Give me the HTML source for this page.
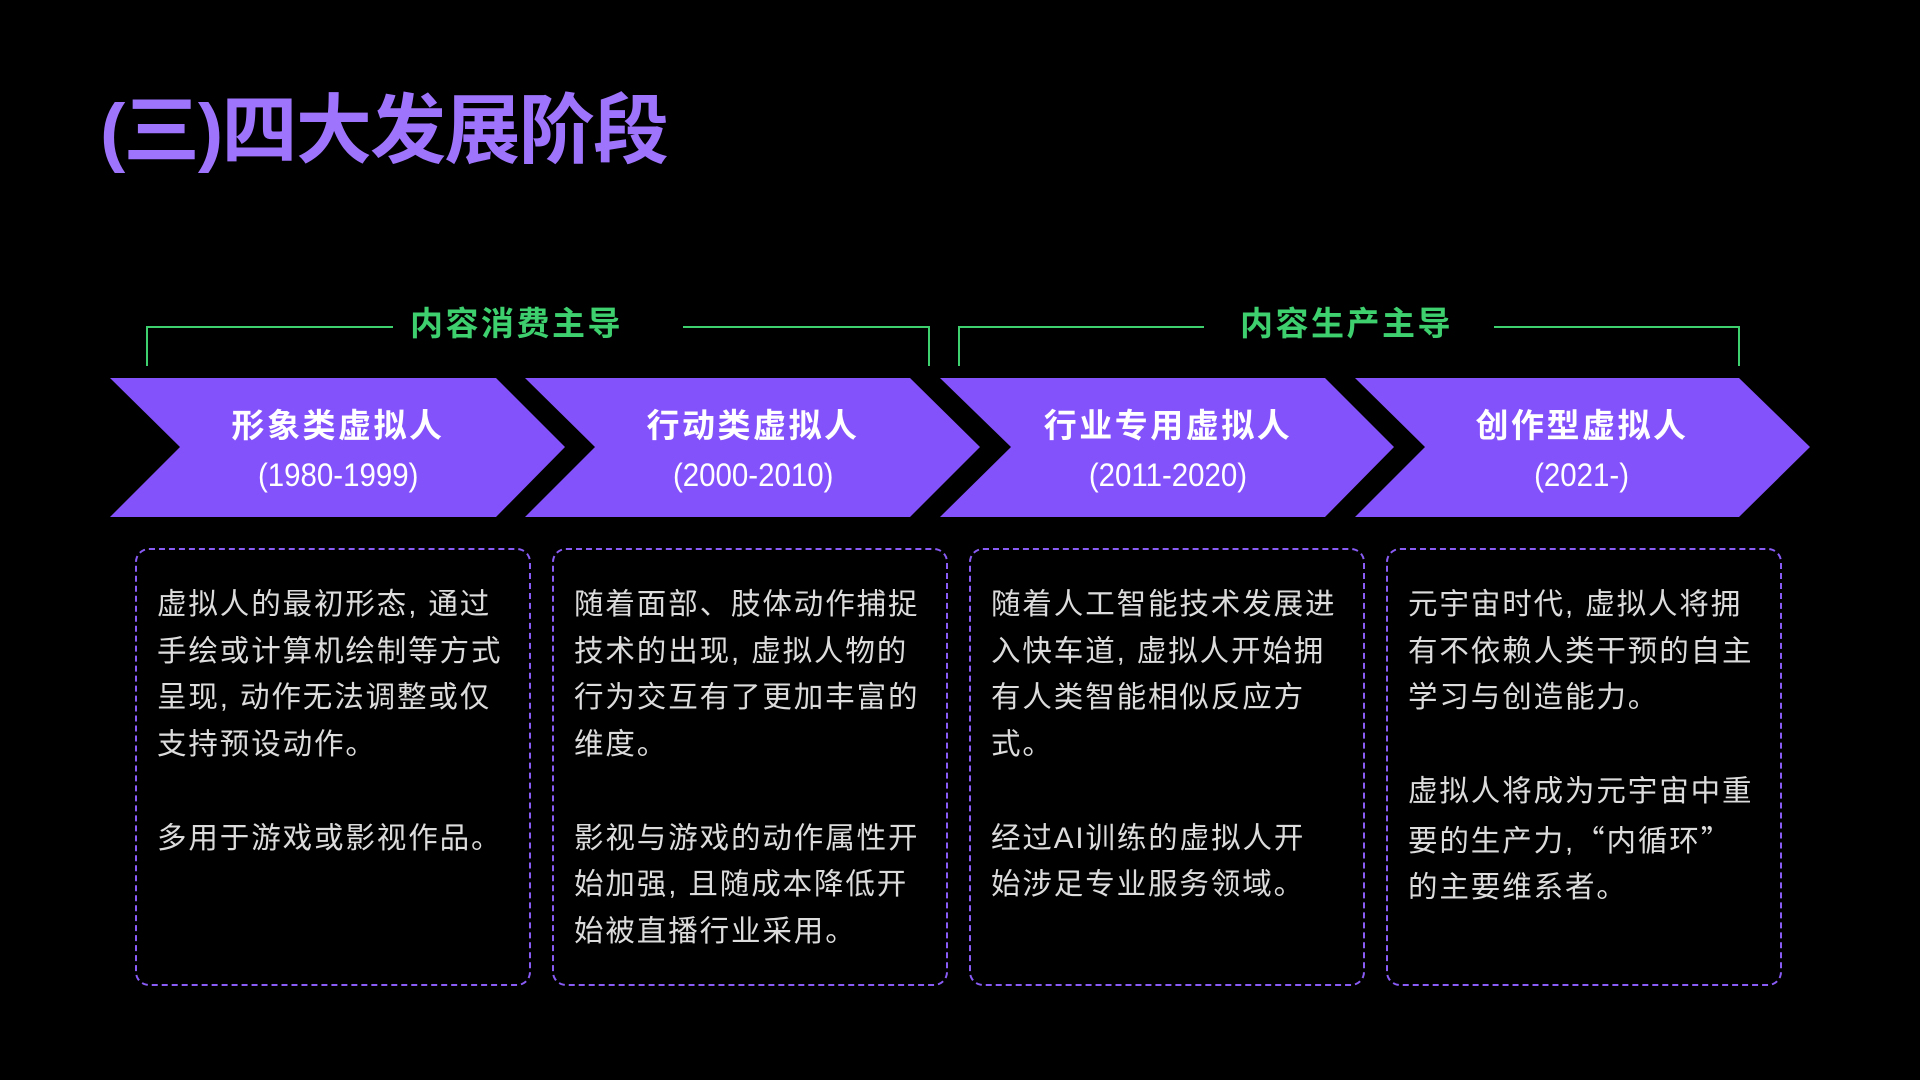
<!DOCTYPE html>
<html><head><meta charset="utf-8"><style>
html,body{margin:0;padding:0;background:#000;width:1920px;height:1080px;overflow:hidden}
body{position:relative;font-family:"Liberation Sans","Noto Sans CJK SC",sans-serif}
.title{position:absolute;left:100px;top:84px;font-size:76px;font-weight:bold;color:#9d74fb;line-height:96px;letter-spacing:-1.7px;white-space:nowrap}
.grp{position:absolute;top:304px;font-size:33px;font-weight:bold;color:#3ecf6e;line-height:40px;white-space:nowrap;letter-spacing:2.5px}
.ct{position:absolute;color:#fff;text-align:center;white-space:nowrap}
.ct .h{font-size:33px;font-weight:bold;line-height:40px;letter-spacing:2.5px}
.ct .y{font-size:32px;line-height:34px;margin-top:12px;display:inline-block;transform:scaleX(0.92)}
.box{position:absolute;top:548px;width:392px;height:434px;border:2px dashed #8a5cf6;border-radius:14px;box-sizing:content-box}
.box p{margin:0;position:absolute;left:20px;top:32px;font-size:29.5px;line-height:46.7px;color:#dcdcdc;letter-spacing:1.9px;white-space:nowrap;font-family:"Liberation Sans","Noto Sans CJK SC",sans-serif}
.q{font-family:"Noto Sans CJK SC",sans-serif}
</style></head><body>
<div class="title">(三)四大发展阶段</div>

<svg width="1920" height="1080" style="position:absolute;left:0;top:0">
<g fill="none" stroke="#3ecf6e" stroke-width="2">
<polyline points="147,366 147,327 393,327"/>
<polyline points="683,327 929,327 929,366"/>
<polyline points="959,366 959,327 1204,327"/>
<polyline points="1494,327 1739,327 1739,366"/>
</g>
<g fill="#8452fb">
<polygon points="110,378 496,378 565,447 496,517 110,517 180,447"/>
<polygon points="525,378 910,378 980,447 910,517 525,517 595,447"/>
<polygon points="940,378 1325,378 1394,447 1325,517 940,517 1011,447"/>
<polygon points="1355,378 1739,378 1810,447 1739,517 1355,517 1425,447"/>
</g>
</svg>

<div class="grp" style="left:410px">内容消费主导</div>
<div class="grp" style="left:1240px">内容生产主导</div>

<div class="ct" style="left:180px;width:316px;top:406px"><div class="h">形象类虚拟人</div><div class="y">(1980-1999)</div></div>
<div class="ct" style="left:595px;width:316px;top:406px"><div class="h">行动类虚拟人</div><div class="y">(2000-2010)</div></div>
<div class="ct" style="left:1011px;width:314px;top:406px"><div class="h">行业专用虚拟人</div><div class="y">(2011-2020)</div></div>
<div class="ct" style="left:1425px;width:314px;top:406px"><div class="h">创作型虚拟人</div><div class="y">(2021-)</div></div>

<div class="box" style="left:135px"><p>虚拟人的最初形态, 通过<br>手绘或计算机绘制等方式<br>呈现, 动作无法调整或仅<br>支持预设动作。<br><br>多用于游戏或影视作品。</p></div>
<div class="box" style="left:552px"><p>随着面部、肢体动作捕捉<br>技术的出现, 虚拟人物的<br>行为交互有了更加丰富的<br>维度。<br><br>影视与游戏的动作属性开<br>始加强, 且随成本降低开<br>始被直播行业采用。</p></div>
<div class="box" style="left:969px"><p>随着人工智能技术发展进<br>入快车道, 虚拟人开始拥<br>有人类智能相似反应方<br>式。<br><br>经过AI训练的虚拟人开<br>始涉足专业服务领域。</p></div>
<div class="box" style="left:1386px"><p>元宇宙时代, 虚拟人将拥<br>有不依赖人类干预的自主<br>学习与创造能力。<br><br>虚拟人将成为元宇宙中重<br>要的生产力,<span class="q">“内循环”</span><br>的主要维系者。</p></div>
</body></html>
